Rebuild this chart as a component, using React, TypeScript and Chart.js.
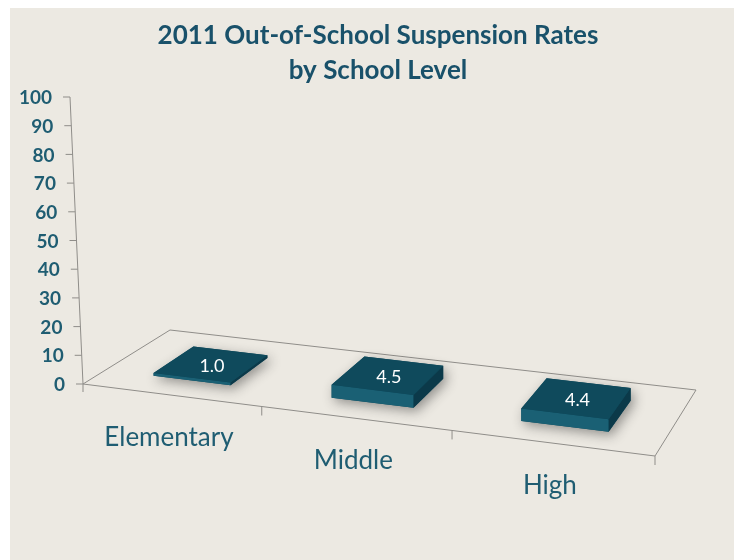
import { useEffect, useRef } from "react";
import { Chart, registerables } from "chart.js";

Chart.register(...registerables);

const TITLE_LINES = ["2011 Out-of-School Suspension Rates", "by School Level"];
const CATEGORIES = ["Elementary", "Middle", "High"];
const RATES = [1.0, 4.5, 4.4];
const Y_MIN = 0;
const Y_MAX = 100;
const Y_STEP = 10;

const TEAL_TEXT = "#1f5d72";
const TITLE_COLOR = "#19516a";
const LINE_GRAY = "#8f8d89";
const TOP_FACE = "#0f4a5c";
const FRONT_FACE = "#1a6074";
const SIDE_FACE = "#0b3949";

type Pt = { x: number; y: number };

const perspectivePlugin = {
  id: "perspective3d",
  afterDatasetsDraw(chart: any) {
    const ctx: CanvasRenderingContext2D = chart.ctx;
    const ca = chart.chartArea;
    const L = ca.left, R = ca.right, T = ca.top, B = ca.bottom;
    const W = R - L, H = B - T;
    const yScale = chart.scales.y;

    // floor corners (perspective plane)
    const FL: Pt = { x: L, y: B };
    const FR: Pt = { x: R, y: B + 72 };
    const BL: Pt = { x: L + 87, y: B - 54 };
    const BR: Pt = { x: R + 41, y: B + 6 };
    const C = 1.1;
    const warp = (u: number) => u / (u + C * (1 - u));
    const lerp = (a: Pt, b: Pt, t: number): Pt => ({ x: a.x + (b.x - a.x) * t, y: a.y + (b.y - a.y) * t });
    const P = (u: number, v: number): Pt => {
      const w = warp(u);
      return lerp(lerp(FL, FR, w), lerp(BL, BR, w), v);
    };

    ctx.save();
    // floor outline
    ctx.strokeStyle = LINE_GRAY;
    ctx.lineWidth = 1;
    ctx.beginPath();
    ctx.moveTo(FL.x, FL.y);
    ctx.lineTo(FR.x, FR.y);
    ctx.lineTo(BR.x, BR.y);
    ctx.lineTo(BL.x, BL.y);
    ctx.closePath();
    ctx.stroke();

    // category ticks on front edge
    const n = CATEGORIES.length;
    for (let k = 1; k <= n; k++) {
      const p = P(k / n, 0);
      ctx.beginPath();
      ctx.moveTo(p.x, p.y);
      ctx.lineTo(p.x, p.y + 9);
      ctx.stroke();
    }

    // slanted value axis
    const axisX = (py: number) => L - 13 * (B - py) / H;
    ctx.beginPath();
    ctx.moveTo(L, B + 8);
    ctx.lineTo(L, B);
    ctx.lineTo(axisX(T), T);
    ctx.stroke();
    const ticks: number[] = yScale.ticks && yScale.ticks.length
      ? yScale.ticks.map((t: any) => t.value)
      : [];
    ctx.fillStyle = TEAL_TEXT;
    ctx.font = "bold 19px Lato";
    ctx.textAlign = "right";
    ctx.textBaseline = "middle";
    for (const t of ticks) {
      const py = yScale.getPixelForValue(t);
      const ax = axisX(py);
      ctx.beginPath();
      ctx.moveTo(ax - 7, py);
      ctx.lineTo(ax, py);
      ctx.stroke();
      ctx.fillText(String(t), ax - 18, py + 1);
    }

    // bars as 3D slabs
    const meta = chart.getDatasetMeta(0);
    const v0 = 0.26, v1 = 0.74;
    meta.data.forEach((el: any, i: number) => {
      const uc = (el.x - L) / W;
      const hw = el.width / 2 / W;
      const u0 = uc - hw, u1 = uc + hw;
      const h = el.base - el.y;
      const bFL = P(u0, v0), bFR = P(u1, v0), bBR = P(u1, v1), bBL = P(u0, v1);
      const up = (p: Pt): Pt => ({ x: p.x, y: p.y - h });
      const tFL = up(bFL), tFR = up(bFR), tBR = up(bBR), tBL = up(bBL);
      const poly = (pts: Pt[], fill: string) => {
        ctx.beginPath();
        ctx.moveTo(pts[0].x, pts[0].y);
        for (let j = 1; j < pts.length; j++) ctx.lineTo(pts[j].x, pts[j].y);
        ctx.closePath();
        ctx.fillStyle = fill;
        ctx.fill();
      };
      ctx.save();
      ctx.shadowColor = "rgba(40,40,40,0.45)";
      ctx.shadowBlur = 12;
      ctx.shadowOffsetX = 3;
      ctx.shadowOffsetY = 4;
      poly([bFL, bFR, bBR, tBR, tBL, tFL], TOP_FACE);
      ctx.restore();
      poly([bFL, bFR, tFR, tFL], FRONT_FACE);
      poly([bFR, bBR, tBR, tFR], SIDE_FACE);
      poly([tFL, tFR, tBR, tBL], TOP_FACE);

      const c = up(P(uc, 0.5));
      ctx.fillStyle = "#ffffff";
      ctx.font = "18px Lato";
      ctx.textAlign = "center";
      ctx.textBaseline = "middle";
      ctx.fillText(RATES[i].toFixed(1), c.x + 1, c.y + 2);

      const f = P(uc, 0);
      ctx.fillStyle = TEAL_TEXT;
      ctx.font = "26px Lato";
      ctx.textBaseline = "alphabetic";
      ctx.fillText(CATEGORIES[i], f.x - 2, f.y + 51);
    });

    // title
    ctx.fillStyle = TITLE_COLOR;
    ctx.font = "bold 26px Lato";
    ctx.textAlign = "center";
    ctx.textBaseline = "middle";
    ctx.fillText(TITLE_LINES[0], 378, 36);
    ctx.fillText(TITLE_LINES[1], 378, 71);
    ctx.restore();
  },
};

export default function App() {
  const ref = useRef<HTMLCanvasElement | null>(null);
  useEffect(() => {
    if (!ref.current) return;
    const chart = new Chart(ref.current, {
      type: "bar",
      data: {
        labels: CATEGORIES,
        datasets: [
          {
            data: RATES,
            backgroundColor: "rgba(0,0,0,0)",
            borderWidth: 0,
            barPercentage: 0.44,
            categoryPercentage: 1,
          },
        ],
      },
      options: {
        responsive: false,
        animation: false,
        layout: { padding: { left: 83, right: 79, top: 97, bottom: 176 } },
        scales: {
          x: { display: false },
          y: { display: false, min: Y_MIN, max: Y_MAX, ticks: { stepSize: Y_STEP } },
        },
        plugins: {
          legend: { display: false },
          tooltip: { enabled: false },
          title: { display: false },
        },
      },
      plugins: [perspectivePlugin],
    });
    return () => chart.destroy();
  }, []);

  return (
    <div style={{ position: "fixed", left: 0, top: 0, width: 734, height: 560, background: "#ffffff", overflow: "hidden" }}>
      <div style={{ position: "absolute", left: 10, top: 8, width: 724, height: 552, background: "#ece9e2" }} />
      <canvas ref={ref} width={734} height={560} style={{ position: "absolute", left: 0, top: 0, display: "block" }} />
    </div>
  );
}
